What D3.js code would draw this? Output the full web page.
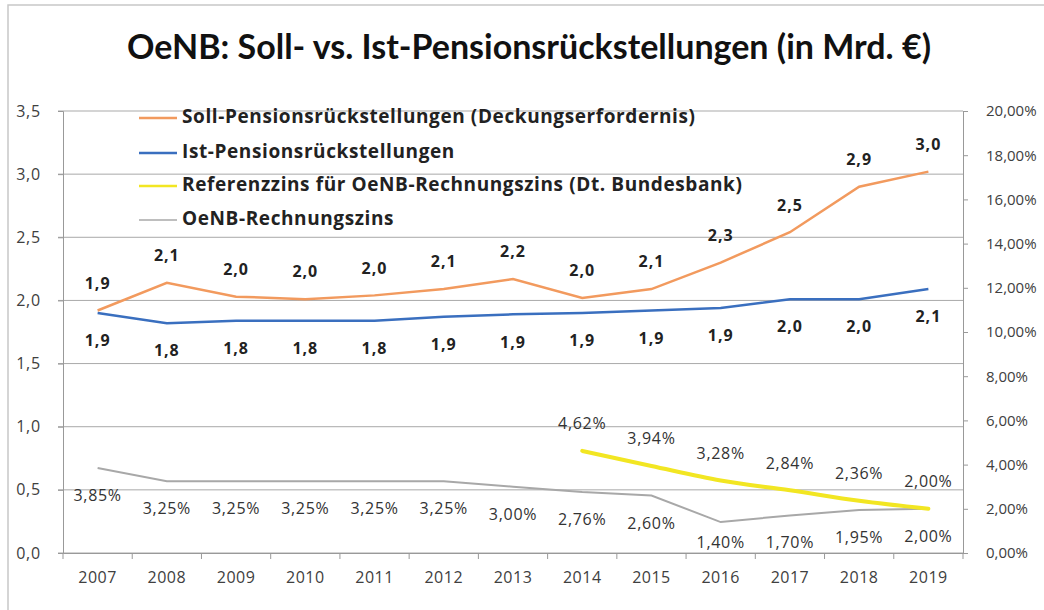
<!DOCTYPE html>
<html><head><meta charset="utf-8">
<script src="https://cdn.jsdelivr.net/npm/d3@7"></script>
<style>
html,body{margin:0;padding:0;background:#fff;}
svg{display:block;}
</style></head>
<body><svg id="c" width="1044" height="610"></svg>
<script>
const years = ["2007","2008","2009","2010","2011","2012","2013","2014","2015","2016","2017","2018","2019"];
const sollValues = [1.92,2.14,2.03,2.01,2.04,2.09,2.17,2.02,2.09,2.30,2.54,2.90,3.02];
const istValues  = [1.90,1.82,1.84,1.84,1.84,1.87,1.89,1.90,1.92,1.94,2.01,2.01,2.09];
const refZinsValues = [null,null,null,null,null,null,null,4.62,3.94,3.28,2.84,2.36,2.00];
const rechZinsValues = [3.85,3.25,3.25,3.25,3.25,3.25,3.00,2.76,2.60,1.40,1.70,1.95,2.00];
const leftTicks = [0,0.5,1.0,1.5,2.0,2.5,3.0,3.5];
const rightTicks = [0,2,4,6,8,10,12,14,16,18,20];
const seriesNames = ["Soll-Pensionsrückstellungen (Deckungserfordernis)","Ist-Pensionsrückstellungen","Referenzzins für OeNB-Rechnungszins (Dt. Bundesbank)","OeNB-Rechnungszins"];
const titleText = "OeNB: Soll- vs. Ist-Pensionsrückstellungen (in Mrd. €)";

const loc = d3.formatLocale({decimal:",",thousands:".",grouping:[3],currency:["","€"]});
const f1 = loc.format(".1f"), f2 = loc.format(".2f");

const svg = d3.select("#c");
const colors = {soll:"#f29a5e", ist:"#3a6fbf", ref:"#f2e622", rech:"#a8a8a8"};
const L=63, R=963, T=111, B=553;
const FONT = "'Open Sans',sans-serif";

// frame
svg.append("rect").attr("x",8).attr("y",5).attr("width",1100).attr("height",700)
  .attr("fill","none").attr("stroke","#c8c8c8").attr("stroke-width",1.5);

svg.append("text").attr("x",529).attr("y",59).attr("text-anchor","middle")
  .style("font-family","Lato,sans-serif")
  .attr("font-size",34).attr("font-weight","bold").attr("fill","#111").text(titleText);

const x = d3.scaleBand().domain(years).range([L,R]).padding(0);
const cx = d => x(d)+x.bandwidth()/2;
const yL = d3.scaleLinear().domain([0,3.5]).range([B,T]);
const yR = d3.scaleLinear().domain([0,20]).range([B,T]);

// gridlines
svg.append("g").selectAll("line").data(leftTicks).join("line")
  .attr("x1",L-5).attr("x2",R).attr("y1",d=>yL(d)).attr("y2",d=>yL(d))
  .attr("stroke","#a9a9a9").attr("stroke-width",1);

// left axis
const gl = svg.append("g").attr("transform",`translate(${L},0)`)
  .call(d3.axisLeft(yL).tickValues(leftTicks).tickFormat(f1).tickSize(5).tickPadding(17));
gl.select(".domain").attr("stroke","#999");
gl.selectAll(".tick line").attr("stroke","#999");
gl.selectAll("text").attr("font-size",16).attr("fill","#404040").style("font-family",FONT).attr("letter-spacing",0.8);

// right axis
const gr = svg.append("g").attr("transform",`translate(${R},0)`)
  .call(d3.axisRight(yR).tickValues(rightTicks).tickFormat(d=>f2(d)+"%").tickSize(5).tickPadding(18));
gr.select(".domain").attr("stroke","#999");
gr.selectAll(".tick line").attr("stroke","#999");
gr.selectAll("text").attr("font-size",15).attr("fill","#404040").style("font-family",FONT);

// bottom axis
const gb = svg.append("g").attr("transform",`translate(0,${B})`)
  .call(d3.axisBottom(x).tickSize(0).tickPadding(19));
gb.select(".domain").attr("stroke","#999");
gb.selectAll("text").attr("font-size",16).attr("fill","#404040").style("font-family",FONT).attr("letter-spacing",0.5);
svg.append("g").selectAll("line").data(years.concat(["end"])).join("line")
  .attr("x1",(d,i)=>L+i*x.bandwidth()).attr("x2",(d,i)=>L+i*x.bandwidth())
  .attr("y1",B).attr("y2",B+6).attr("stroke","#999");

// lines
const lineL = d3.line().x((d,i)=>cx(years[i])).y(d=>yL(d));
const lineR = d3.line().defined(d=>d!=null).x((d,i)=>cx(years[i])).y(d=>yR(d));
const lineRs = d3.line().defined(d=>d!=null).x((d,i)=>cx(years[i])).y(d=>yR(d)).curve(d3.curveMonotoneX);

svg.append("path").attr("d",lineR(rechZinsValues)).attr("fill","none").attr("stroke",colors.rech).attr("stroke-width",2);
svg.append("path").attr("d",lineRs(refZinsValues)).attr("fill","none").attr("stroke",colors.ref).attr("stroke-width",4).attr("stroke-linecap","round");
svg.append("path").attr("d",lineL(istValues)).attr("fill","none").attr("stroke",colors.ist).attr("stroke-width",2.5);
svg.append("path").attr("d",lineL(sollValues)).attr("fill","none").attr("stroke",colors.soll).attr("stroke-width",2.5);

// labels
const lab = svg.append("g").attr("font-size",16).attr("text-anchor","middle").attr("dominant-baseline","middle").style("font-family",FONT);
lab.selectAll(".ls").data(sollValues).join("text").attr("class","ls").attr("font-weight","bold").attr("fill","#222").attr("letter-spacing",1)
  .attr("x",(d,i)=>cx(years[i])).attr("y",d=>yL(d)-26).text(d=>f1(d));
lab.selectAll(".li").data(istValues).join("text").attr("class","li").attr("font-weight","bold").attr("fill","#222").attr("letter-spacing",1)
  .attr("x",(d,i)=>cx(years[i])).attr("y",d=>yL(d)+29).text(d=>f1(d));
lab.selectAll(".lr").data(refZinsValues.map((v,i)=>({v,i})).filter(d=>d.v!=null)).join("text").attr("class","lr").attr("fill","#333").attr("letter-spacing",0.7)
  .attr("x",d=>cx(years[d.i])).attr("y",d=>yR(d.v)-26).text(d=>f2(d.v)+"%");
lab.selectAll(".lz").data(rechZinsValues).join("text").attr("class","lz").attr("fill","#333").attr("letter-spacing",0.7)
  .attr("x",(d,i)=>cx(years[i])).attr("y",d=>Math.min(yR(d)+29,544)).text(d=>f2(d)+"%");

// legend
const legY = [118,153,186,220];
const legC = [colors.soll,colors.ist,colors.ref,colors.rech];
const lg = svg.append("g");
seriesNames.forEach((n,i)=>{
  lg.append("line").attr("x1",139).attr("x2",177).attr("y1",legY[i]).attr("y2",legY[i])
    .attr("stroke",legC[i]).attr("stroke-width",i===3?1.5:2.5);
  lg.append("text").attr("x",182).attr("y",legY[i]).attr("dominant-baseline","middle").style("font-family",FONT)
    .attr("font-size",19).attr("letter-spacing",0.6).attr("font-weight","bold").attr("fill","#222").text(n);
});
</script></body></html>
